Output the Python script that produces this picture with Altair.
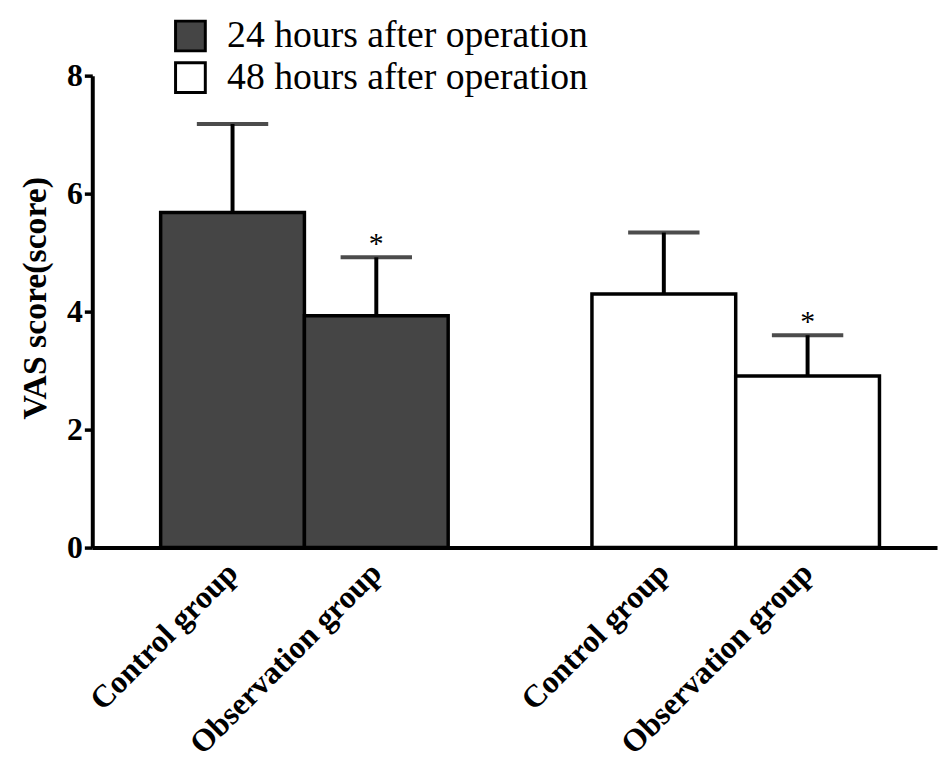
import altair as alt
import pandas as pd

# ---- data ----
slots = ["c24", "o24", "gap", "c48", "o48"]
slot_labels = ["Control group", "Observation group", "", "Control group", "Observation group"]
bar_slots = ["c24", "o24", "c48", "o48"]
times = ["24 hours after operation", "24 hours after operation",
         "48 hours after operation", "48 hours after operation"]
means = [5.68, 3.93, 4.30, 2.91]
uppers = [7.18, 4.92, 5.34, 3.60]
stars = ["", "*", "", "*"]
y_ticks = [0, 2, 4, 6, 8]

df = pd.DataFrame({"slot": bar_slots, "time": times, "mean": means,
                   "upper": uppers, "star": stars})

label_expr = " : ".join(
    [f"datum.value == '{s}' ? '{l}'" for s, l in zip(slots, slot_labels)]
) + " : ''"

FONT = "Liberation Serif"

x = alt.X("slot:N",
          scale=alt.Scale(domain=slots, paddingInner=0, paddingOuter=0.438, align=0.543),
          axis=alt.Axis(title=None, labelExpr=label_expr, labelAngle=-45,
                        labelAlign="right", labelBaseline="middle", labelPadding=20,
                        labelFont=FONT, labelFontSize=32, labelFontWeight="bold",
                        labelColor="black", ticks=False, domainColor="black",
                        domainWidth=4, labelOverlap=False, labelLimit=500))
y_scale = alt.Scale(domain=[0, 8], nice=False)
y_axis = alt.Axis(values=y_ticks, format="d", title="VAS score(score)", titleFont=FONT,
                  titleFontSize=34, titleFontWeight="bold", titleColor="black",
                  titlePadding=14, titleY=224, labelFont=FONT, labelFontSize=32,
                  labelFontWeight="bold", labelColor="black", labelPadding=2,
                  tickSize=8, tickWidth=3.5, tickColor="black", domainWidth=4,
                  domainColor="black", grid=False)

base = alt.Chart(df)

bars = base.mark_bar(stroke="black", strokeWidth=3.5).encode(
    x=x,
    y=alt.Y("mean:Q", scale=y_scale, axis=y_axis),
    color=alt.Color("time:N",
                    scale=alt.Scale(domain=[times[0], times[2]], range=["#454545", "#ffffff"]),
                    legend=alt.Legend(title=None, orient="none", legendX=80, legendY=-59,
                                      padding=0, symbolType="square", symbolSize=900,
                                      symbolStrokeColor="black", symbolStrokeWidth=3,
                                      labelFont=FONT, labelFontSize=38, labelColor="black",
                                      labelOffset=18, rowPadding=0, labelLimit=600)),
)

err = base.mark_rule(color="black", strokeWidth=4).encode(
    x=alt.X("slot:N"), y=alt.Y("mean:Q"), y2="upper:Q")

caps = base.mark_tick(color="black", thickness=4, size=72).encode(
    x=alt.X("slot:N"), y=alt.Y("upper:Q"))

star_text = base.mark_text(font=FONT, fontSize=30, color="black",
                           baseline="alphabetic", dy=-4).encode(
    x=alt.X("slot:N"), y=alt.Y("upper:Q"), text="star:N")

chart = alt.layer(bars, err, caps, star_text).properties(
    width=852, height=476,
    autosize=alt.AutoSizeParams(type="none"),
    padding={"left": 85, "top": 65, "right": 2, "bottom": 212},
).configure_view(stroke=None)

chart.save("out.html", embed_options={"renderer": "svg", "actions": False})
